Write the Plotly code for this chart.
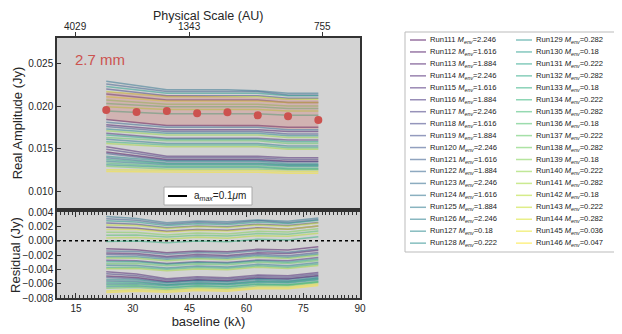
import plotly.graph_objects as go
from plotly.colors import sample_colorscale

# baselines of the binned visibilities (k-lambda)
baseline = [23, 31, 39, 47, 55, 63, 71, 79]

# observed real amplitude at 2.7 mm (Jy)
data_amp = [0.01953, 0.01930, 0.01940, 0.01914, 0.01926, 0.01890, 0.01880, 0.01835]

# shaded range behind the data (Jy)
band_hi = [0.0217, 0.0215, 0.0213, 0.0212, 0.0211, 0.0210, 0.0208, 0.0207]
band_lo = [0.0184, 0.0180, 0.0177, 0.0177, 0.0176, 0.0176, 0.0173, 0.0173]

# top axis: physical scale labels placed at these baselines
au_ticks = [15, 45, 80]
au_labels = ['4029', '1343', '755']

run_ids = [111, 112, 113, 114, 115, 116, 117, 118, 119, 120, 121, 122,
           123, 124, 125, 126, 127, 128, 129, 130, 131, 132, 133, 134,
           135, 136, 137, 138, 139, 140, 141, 142, 143, 144, 145, 146]

m_env = [2.246, 1.616, 1.884, 2.246, 1.616, 1.884, 2.246, 1.616, 1.884,
         2.246, 1.616, 1.884, 2.246, 1.616, 1.884, 2.246, 0.18, 0.222,
         0.282, 0.18, 0.222, 0.282, 0.18, 0.222, 0.282, 0.18, 0.222,
         0.282, 0.18, 0.222, 0.282, 0.18, 0.222, 0.282, 0.036, 0.047]

# model real amplitude for each run, one row per run (Jy)
model_amp = [
    [0.0146, 0.01415, 0.0137, 0.0137, 0.0137, 0.0137, 0.0135, 0.0135],  # 111
    [0.0184, 0.01805, 0.0177, 0.0177, 0.0177, 0.0177, 0.0175, 0.0175],  # 112
    [0.0178, 0.0175, 0.0172, 0.0172, 0.0172, 0.0172, 0.0170, 0.0170],   # 113
    [0.0152, 0.01465, 0.0141, 0.0141, 0.0141, 0.0141, 0.0139, 0.0139],  # 114
    [0.0214, 0.02105, 0.0207, 0.0207, 0.0207, 0.0207, 0.0204, 0.0204],  # 115
    [0.0168, 0.0165, 0.0162, 0.0162, 0.0162, 0.0162, 0.0160, 0.0160],   # 116
    [0.0149, 0.0144, 0.0139, 0.0139, 0.0139, 0.0139, 0.0137, 0.0137],   # 117
    [0.0220, 0.0216, 0.0212, 0.0212, 0.0212, 0.0212, 0.0209, 0.0209],   # 118
    [0.0176, 0.0173, 0.0170, 0.0170, 0.0170, 0.0170, 0.0167, 0.0167],   # 119
    [0.0144, 0.0140, 0.0136, 0.0136, 0.0136, 0.0136, 0.0134, 0.0134],   # 120
    [0.0226, 0.02215, 0.0217, 0.0217, 0.0217, 0.0217, 0.0213, 0.0213],  # 121
    [0.0181, 0.0178, 0.0175, 0.0175, 0.0175, 0.0175, 0.0172, 0.0172],   # 122
    [0.0139, 0.0136, 0.0133, 0.0133, 0.0133, 0.0133, 0.0131, 0.0131],   # 123
    [0.0229, 0.0224, 0.0219, 0.0219, 0.0219, 0.0218, 0.0215, 0.0215],   # 124
    [0.0161, 0.01585, 0.0156, 0.0156, 0.0156, 0.0156, 0.0153, 0.0153],  # 125
    [0.0135, 0.0133, 0.0131, 0.0131, 0.0131, 0.0131, 0.0129, 0.0129],   # 126
    [0.0173, 0.01705, 0.0168, 0.0168, 0.0168, 0.0168, 0.0165, 0.0165],  # 127
    [0.0141, 0.0138, 0.0135, 0.0135, 0.0135, 0.0135, 0.0132, 0.0132],   # 128
    [0.0131, 0.01295, 0.0128, 0.0128, 0.0128, 0.0128, 0.0126, 0.0126],  # 129
    [0.0223, 0.0219, 0.0215, 0.0215, 0.0215, 0.0215, 0.0212, 0.0212],   # 130
    [0.0166, 0.01635, 0.0161, 0.0161, 0.0161, 0.0161, 0.0158, 0.0158],  # 131
    [0.0137, 0.01345, 0.0132, 0.0132, 0.0132, 0.0132, 0.0130, 0.0130],  # 132
    [0.0194, 0.01925, 0.0191, 0.0191, 0.0191, 0.0191, 0.0189, 0.0189],  # 133
    [0.0158, 0.0156, 0.0154, 0.0154, 0.0154, 0.0154, 0.0151, 0.0151],   # 134
    [0.0133, 0.0131, 0.0129, 0.0129, 0.0129, 0.0129, 0.0127, 0.0127],   # 135
    [0.0203, 0.0201, 0.0199, 0.0199, 0.0199, 0.0199, 0.0197, 0.0197],   # 136
    [0.0163, 0.0161, 0.0159, 0.0159, 0.0159, 0.0159, 0.0156, 0.0156],   # 137
    [0.0129, 0.01275, 0.0126, 0.0126, 0.0126, 0.0126, 0.0125, 0.0125],  # 138
    [0.0207, 0.02045, 0.0202, 0.0202, 0.0202, 0.0202, 0.0200, 0.0200],  # 139
    [0.0171, 0.01685, 0.0166, 0.0166, 0.0166, 0.0166, 0.0163, 0.0163],  # 140
    [0.0156, 0.0154, 0.0152, 0.0152, 0.0152, 0.0152, 0.0149, 0.0149],   # 141
    [0.0199, 0.01975, 0.0196, 0.0196, 0.0196, 0.0196, 0.0194, 0.0194],  # 142
    [0.0217, 0.0214, 0.0211, 0.0211, 0.0211, 0.0211, 0.0208, 0.0208],   # 143
    [0.0211, 0.02085, 0.0206, 0.0206, 0.0206, 0.0206, 0.0204, 0.0204],  # 144
    [0.0125, 0.01245, 0.0124, 0.0124, 0.0124, 0.0124, 0.0123, 0.0123],  # 145
    [0.0123, 0.01225, 0.0122, 0.0122, 0.0122, 0.0122, 0.0121, 0.0121],  # 146
]

RED = '#cc524f'
AXIS = '#333333'
FONT = 'Liberation Sans, Arial, sans-serif'

# page body has an 8px margin, so the figure is drawn 8px in from the corner
OFF = 8
# plot area in window pixels: x 57..360, y 38..298
L, R, T, B = 57, 360, 38, 298


def px_x(x):
    return (x - L) / (R - L)


def px_y(y):
    return (B - y) / (B - T)


colors = sample_colorscale('Viridis', [i / (len(run_ids) - 1) for i in range(len(run_ids))])

fig = go.Figure()

# model curves (top) and residuals model - data (bottom)
for i, run in enumerate(run_ids):
    resid = [m - d for m, d in zip(model_amp[i], data_amp)]
    fig.add_trace(go.Scatter(
        x=baseline, y=model_amp[i], mode='lines', name=f'Run{run}',
        line=dict(color=colors[i], width=1.5), opacity=0.5,
        xaxis='x', yaxis='y', hoverinfo='name+y'))
    fig.add_trace(go.Scatter(
        x=baseline, y=resid, mode='lines', name=f'Run{run}',
        line=dict(color=colors[i], width=1.5), opacity=0.5,
        xaxis='x2', yaxis='y2', hoverinfo='name+y'))

# shaded range
fig.add_trace(go.Scatter(x=baseline, y=band_lo, mode='lines', line=dict(width=0),
                         xaxis='x', yaxis='y', hoverinfo='skip'))
fig.add_trace(go.Scatter(x=baseline, y=band_hi, mode='lines', line=dict(width=0),
                         fill='tonexty', fillcolor='rgba(204,82,79,0.25)',
                         xaxis='x', yaxis='y', hoverinfo='skip'))

# observed points
fig.add_trace(go.Scatter(x=baseline, y=data_amp, mode='markers', name='2.7 mm',
                         marker=dict(color=RED, size=8),
                         xaxis='x', yaxis='y'))

shapes = [
    # zero line in residual panel
    dict(type='line', xref='x2 domain', yref='y2', x0=0, x1=1, y0=0, y1=0,
         line=dict(color='black', width=1.5, dash='dot'), layer='below'),
    # small legend box
    dict(type='rect', xref='paper', yref='paper',
         x0=px_x(164), x1=px_x(252), y0=px_y(205), y1=px_y(187),
         fillcolor='white', line=dict(color='#aaaaaa', width=1)),
    dict(type='line', xref='paper', yref='paper',
         x0=px_x(168), x1=px_x(187), y0=px_y(196), y1=px_y(196),
         line=dict(color='black', width=2)),
    # run legend box
    dict(type='rect', xref='paper', yref='paper',
         x0=px_x(405), x1=px_x(617), y0=px_y(252), y1=px_y(32),
         fillcolor='white', line=dict(color='#bbbbbb', width=1)),
]

annotations = [
    dict(text='Physical Scale (AU)', xref='paper', yref='paper',
         x=px_x(208), y=px_y(7.5), xanchor='center', yanchor='top', showarrow=False,
         font=dict(size=12.5, color='#262626')),
    dict(text='2.7 mm', xref='paper', yref='paper', x=px_x(100), y=px_y(59),
         xanchor='center', yanchor='middle',
         showarrow=False, font=dict(size=15, color=RED)),
    dict(text='a<sub><i>max</i></sub>=0.1<i>μ</i>m', xref='paper', yref='paper',
         x=px_x(192), y=px_y(196), xanchor='left', yanchor='middle',
         showarrow=False, font=dict(size=10, color='#222222')),
]

# physical scale tick labels on the top axis
for tv, tl in zip(au_ticks, au_labels):
    annotations.append(dict(text=tl, xref='x', yref='paper', x=tv, y=px_y(27),
                            xanchor='center', yanchor='middle', showarrow=False,
                            font=dict(size=10, color='#262626')))

for i, run in enumerate(run_ids):
    col, row = divmod(i, 18)
    yy = 40 + row * 11.95
    x0 = 410 if col == 0 else 516
    shapes.append(dict(type='line', xref='paper', yref='paper',
                       x0=px_x(x0), x1=px_x(x0 + 16), y0=px_y(yy), y1=px_y(yy),
                       line=dict(color=colors[i], width=1.5), opacity=0.55))
    annotations.append(dict(
        text=f'Run{run} <i>M</i><sub><i>env</i></sub>={m_env[i]}',
        xref='paper', yref='paper', x=px_x(x0 + 18), y=px_y(yy),
        xanchor='left', yanchor='middle', showarrow=False,
        font=dict(size=7.6, color='#222222')))

frame = dict(showline=True, linecolor=AXIS, linewidth=1.5, showgrid=False,
             zeroline=False, tickcolor=AXIS, tickfont=dict(size=10),
             automargin=False)

fig.update_layout(
    width=622 - OFF, height=334 - OFF,
    margin=dict(l=L - OFF, r=622 - R, t=T - OFF, b=334 - B),
    paper_bgcolor='white', plot_bgcolor='#d3d3d3',
    showlegend=False,
    font=dict(family=FONT, color='#262626', size=10),
    xaxis=dict(frame, domain=[0, 1], anchor='y', side='top', range=[10, 90],
               tickvals=au_ticks, showticklabels=False, ticks='outside', ticklen=4,
               mirror=True),
    yaxis=dict(frame, domain=[(B - 208) / (B - T), 1], anchor='x', range=[0.008, 0.028],
               tickvals=[0.010, 0.015, 0.020, 0.025], tickformat='.3f',
               ticks='inside', ticklen=4, mirror=True,
               title=dict(text='Real Amplitude (Jy)', font=dict(size=13), standoff=3)),
    xaxis2=dict(frame, domain=[0, 1], anchor='y2', range=[10, 90],
                tickvals=[15, 30, 45, 60, 75, 90], ticks='inside', ticklen=5,
                mirror='ticks',
                minor=dict(dtick=1, ticks='inside', ticklen=3, tickcolor=AXIS),
                title=dict(text='baseline (kλ)', font=dict(size=13), standoff=2)),
    yaxis2=dict(frame, domain=[0, (B - 212) / (B - T)], anchor='x2', range=[-0.008, 0.004],
                tickvals=[-0.008, -0.006, -0.004, -0.002, 0.0, 0.002, 0.004],
                tickformat='.3f', ticks='inside', ticklen=4, mirror=True,
                title=dict(text='Residual (Jy)', font=dict(size=13), standoff=3)),
    shapes=shapes,
    annotations=annotations,
)

fig.write_html("out.html")
